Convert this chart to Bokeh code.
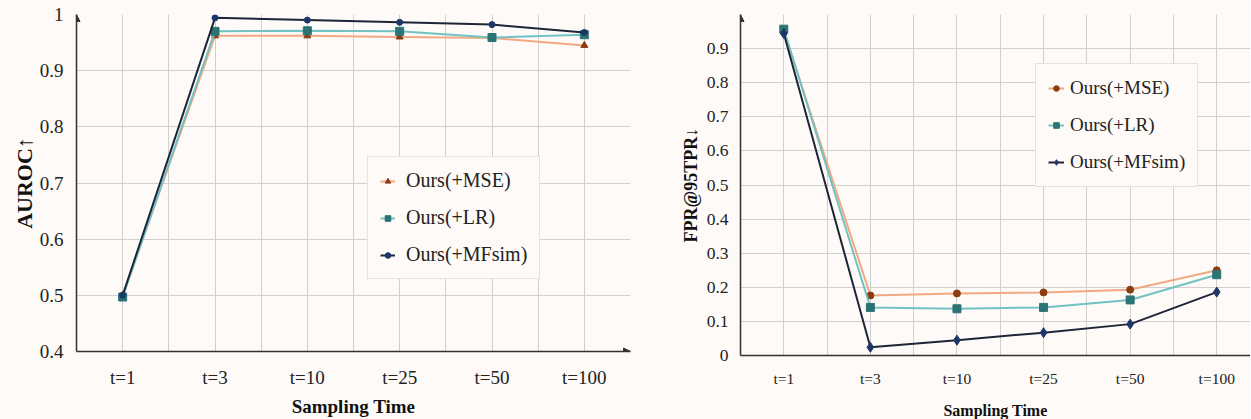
from bokeh.plotting import figure
from bokeh.layouts import row
from bokeh.models import (Range1d, FixedTicker, CustomJSTickFormatter, Legend, LegendItem,
                          Arrow, NormalHead, Label)
from bokeh.embed import file_html
from bokeh.resources import INLINE

# ---------------- data ----------------
categories = ["t=1", "t=3", "t=10", "t=25", "t=50", "t=100"]
series_names = ["Ours(+MSE)", "Ours(+LR)", "Ours(+MFsim)"]

auroc_mse = [0.500, 0.962, 0.962, 0.960, 0.958, 0.945]
auroc_lr = [0.497, 0.970, 0.971, 0.970, 0.959, 0.964]
auroc_mfsim = [0.500, 0.994, 0.990, 0.986, 0.982, 0.968]

fpr_mse = [0.951, 0.176, 0.182, 0.185, 0.193, 0.250]
fpr_lr = [0.957, 0.141, 0.137, 0.141, 0.163, 0.237]
fpr_mfsim = [0.944, 0.024, 0.045, 0.067, 0.092, 0.186]

auroc_ticks = [0.4, 0.5, 0.6, 0.7, 0.8, 0.9, 1.0]
fpr_ticks = [0.0, 0.1, 0.2, 0.3, 0.4, 0.5, 0.6, 0.7, 0.8, 0.9, 1.0]

# ---------------- style ----------------
BG = "#fdfaf8"
GRID = "#d2d0ce"
AXIS = "#333333"
SERIF = "Liberation Serif"
line_colors = ["#f2a983", "#72c2c4", "#1e2537"]
mark_colors = ["#8a3c12", "#2c7474", "#1e3668"]

xs = list(range(1, len(categories) + 1))
half_ticks = [0.5 + 0.5 * i for i in range(2 * len(categories) + 1)]

x_fmt = CustomJSTickFormatter(args=dict(labels=categories),
                              code="const i = Math.round(tick) - 1; return (i >= 0 && i < labels.length) ? labels[i] : '';")


def y_fmt(hide_one=False):
    one = "''" if hide_one else "'1'"
    return CustomJSTickFormatter(code=f"""
        if (Math.abs(tick - 1) < 1e-9) return {one};
        if (Math.abs(tick) < 1e-9) return '0';
        return tick.toFixed(1);""")


def make_fig(frame_w, frame_h, xr, yr, yticks, mb_left, mb_right, mb_top, mb_bottom):
    p = figure(frame_width=frame_w, frame_height=frame_h, x_range=Range1d(*xr), y_range=Range1d(*yr),
               output_backend="svg", toolbar_location=None,
               min_border_left=mb_left, min_border_right=mb_right,
               min_border_top=mb_top, min_border_bottom=mb_bottom)
    p.background_fill_color = BG
    p.border_fill_color = BG
    p.outline_line_color = None
    p.xaxis.ticker = FixedTicker(ticks=xs)
    p.xaxis.formatter = x_fmt
    p.yaxis.ticker = FixedTicker(ticks=yticks)
    p.xgrid.ticker = FixedTicker(ticks=half_ticks)
    p.ygrid.ticker = FixedTicker(ticks=yticks)
    for g in (p.xgrid, p.ygrid):
        g.grid_line_color = GRID
        g.grid_line_width = 1
    for ax in (p.xaxis, p.yaxis):
        ax.axis_line_color = AXIS
        ax.axis_line_width = 1.5
        ax.major_tick_line_color = None
        ax.minor_tick_line_color = None
        ax.major_label_text_font = SERIF
        ax.major_label_text_color = "#222222"
        ax.axis_label_text_font = SERIF
        ax.axis_label_text_font_style = "bold"
        ax.axis_label_text_color = "#111111"
    return p


# ---------------- left: AUROC ----------------
p1 = make_fig(554, 337, (0.5, 6.5), (auroc_ticks[0], auroc_ticks[-1]), auroc_ticks, 76, 10, 14, 66)
p1.yaxis.formatter = y_fmt()
p1.xaxis.major_label_text_font_size = "19px"
p1.yaxis.major_label_text_font_size = "19px"
p1.xaxis.major_label_standoff = 9
p1.yaxis.major_label_standoff = 7
p1.xaxis.axis_label = "Sampling Time"
p1.yaxis.axis_label = "AUROC\u2191"
p1.xaxis.axis_label_text_font_size = "19px"
p1.yaxis.axis_label_text_font_size = "22px"
p1.xaxis.axis_label_standoff = 5
p1.yaxis.axis_label_standoff = 0

left_series = [auroc_mse, auroc_lr, auroc_mfsim]
left_markers = ["triangle", "square", "circle"]
left_sizes = [7, 8, 6]
items1 = []
for name, ys, lc, mc, mk, sz in zip(series_names, left_series, line_colors, mark_colors, left_markers, left_sizes):
    r_l = p1.line(xs, ys, line_color=lc, line_width=2)
    r_m = p1.scatter(xs, ys, marker=mk, size=sz, fill_color=mc, line_color=mc)
    items1.append(LegendItem(label=name, renderers=[r_l, r_m]))

leg1 = Legend(items=items1, location=(291, 72), padding=12, spacing=14, label_height=22,
              glyph_width=15, glyph_height=14, label_standoff=11, margin=0,
              label_text_font=SERIF, label_text_font_size="20px", label_text_color="#222222",
              border_line_color="#cccccc", background_fill_color=BG, background_fill_alpha=1)
p1.add_layout(leg1, "center")

y0, y1 = auroc_ticks[0], auroc_ticks[-1]
p1.add_layout(Arrow(end=NormalHead(size=7, fill_color=AXIS, line_color=AXIS), line_alpha=0,
                    x_start=0.5, y_start=y0, x_end=0.5, y_end=y1))
p1.add_layout(Arrow(end=NormalHead(size=7, fill_color=AXIS, line_color=AXIS), line_alpha=0,
                    x_start=0.5, y_start=y0, x_end=6.5, y_end=y0))

# ---------------- right: FPR@95TPR ----------------
p2 = make_fig(510, 341, (0.5, 6.39), (fpr_ticks[0], fpr_ticks[-1]), fpr_ticks, 100, 0, 13, 63)
p2.yaxis.formatter = y_fmt(hide_one=True)
p2.xaxis.major_label_text_font_size = "15.5px"
p2.yaxis.major_label_text_font_size = "17.5px"
p2.xaxis.major_label_standoff = 8
p2.yaxis.major_label_standoff = 6
p2.xaxis.axis_label = "Sampling Time"
p2.yaxis.axis_label = "FPR@95TPR\u2193"
p2.xaxis.axis_label_text_font_size = "16px"
p2.yaxis.axis_label_text_font_size = "18px"
p2.xaxis.axis_label_standoff = 12
p2.yaxis.axis_label_standoff = 3

right_series = [fpr_mse, fpr_lr, fpr_mfsim]
right_markers = ["circle", "square", "diamond"]
right_sizes = [7, 8, 10]
items2 = []
for name, ys, lc, mc, mk, sz in zip(series_names, right_series, line_colors, mark_colors, right_markers, right_sizes):
    r_l = p2.line(xs, ys, line_color=lc, line_width=2)
    r_m = p2.scatter(xs, ys, marker=mk, size=sz, fill_color=mc, line_color=mc)
    items2.append(LegendItem(label=name, renderers=[r_l, r_m]))

leg2 = Legend(items=items2, location=(295, 168), padding=12, spacing=13, label_height=24,
              glyph_width=16, glyph_height=14, label_standoff=6, margin=0,
              label_text_font=SERIF, label_text_font_size="19px", label_text_color="#222222",
              border_line_color="#cccccc", background_fill_color=BG, background_fill_alpha=1)
p2.add_layout(leg2, "center")

p2.add_layout(Label(x=0.5, y=fpr_ticks[-1], x_offset=-14, y_offset=-1, text="1",
                    text_font=SERIF, text_font_size="10px", text_align="right",
                    text_baseline="middle", text_color="#222222"))
p2.add_layout(Arrow(end=NormalHead(size=7, fill_color=AXIS, line_color=AXIS), line_alpha=0,
                    x_start=0.5, y_start=fpr_ticks[0], x_end=0.5, y_end=fpr_ticks[-1]))

layout = row(p1, p2)
open("out.html", "w").write(file_html(layout, INLINE))
